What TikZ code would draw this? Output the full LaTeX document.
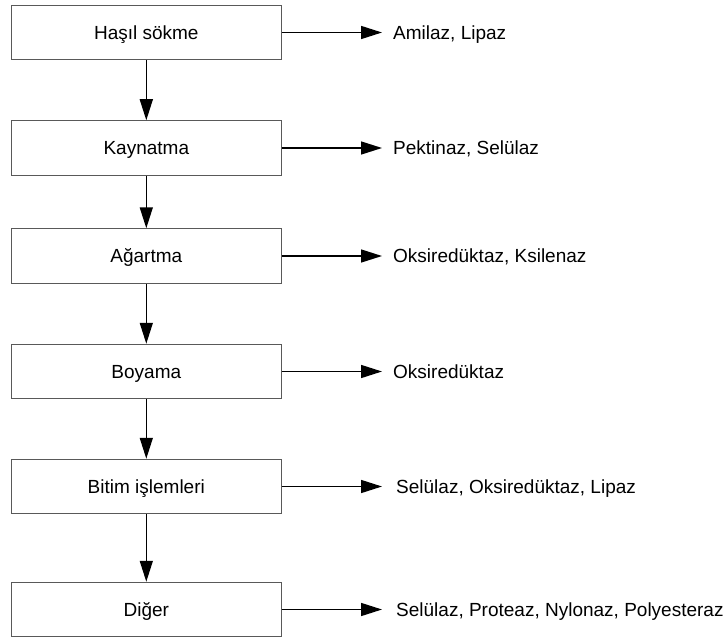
\documentclass[tikz,border=0pt]{standalone}
\usepackage{fontspec}
\setmainfont{Liberation Sans}
\usetikzlibrary{arrows.meta}
\begin{document}
\begin{tikzpicture}[x=1pt,y=-1pt,
  procbox/.style={draw=black!65,line width=1pt,minimum width=270pt,minimum height=54.5pt,inner sep=0pt,text height=13.6pt,text depth=0pt,font=\fontsize{19}{22}\selectfont},
  enzlabel/.style={anchor=base west,inner sep=0pt,font=\fontsize{19}{22}\selectfont},
  flowarrow/.style={draw=black,line width=1.5pt,-{Triangle[length=21pt,width=13pt]}}]
\useasboundingbox (0,0) rectangle (725,639);
\node[procbox] (b1) at (146.3,32.5) {Haşıl sökme};
\node[procbox] (b2) at (146.3,148) {Kaynatma};
\node[procbox] (b3) at (146.3,256) {Ağartma};
\node[procbox] (b4) at (146.3,371.5) {Boyama};
\node[procbox] (b5) at (146.3,486.5) {Bitim işlemleri};
\node[procbox] (b6) at (146.3,609.5) {Diğer};
\foreach \i/\y in {1/32.5,2/148,3/256,4/371.5,5/486.5,6/609.5}{
  \coordinate (t\i) at (382,\y);
}
\node[enzlabel] (e1) at (393,39.3) {Amilaz, Lipaz};
\node[enzlabel] (e2) at (393,154.8) {Pektinaz, Selülaz};
\node[enzlabel] (e3) at (393,262.8) {Oksiredüktaz, Ksilenaz};
\node[enzlabel] (e4) at (393,378.3) {Oksiredüktaz};
\node[enzlabel] (e5) at (396,493.3) {Selülaz, Oksiredüktaz, Lipaz};
\node[enzlabel] (e6) at (396,616.3) {Selülaz, Proteaz, Nylonaz, Polyesteraz};
\foreach \i in {1,...,6}{
  \draw[flowarrow] (b\i.east) -- (t\i);
}
\draw[flowarrow] (b1) -- (b2);
\draw[flowarrow] (b2) -- (b3);
\draw[flowarrow] (b3) -- (b4);
\draw[flowarrow] (b4) -- (b5);
\draw[flowarrow] (b5) -- (b6);
\end{tikzpicture}
\end{document}
